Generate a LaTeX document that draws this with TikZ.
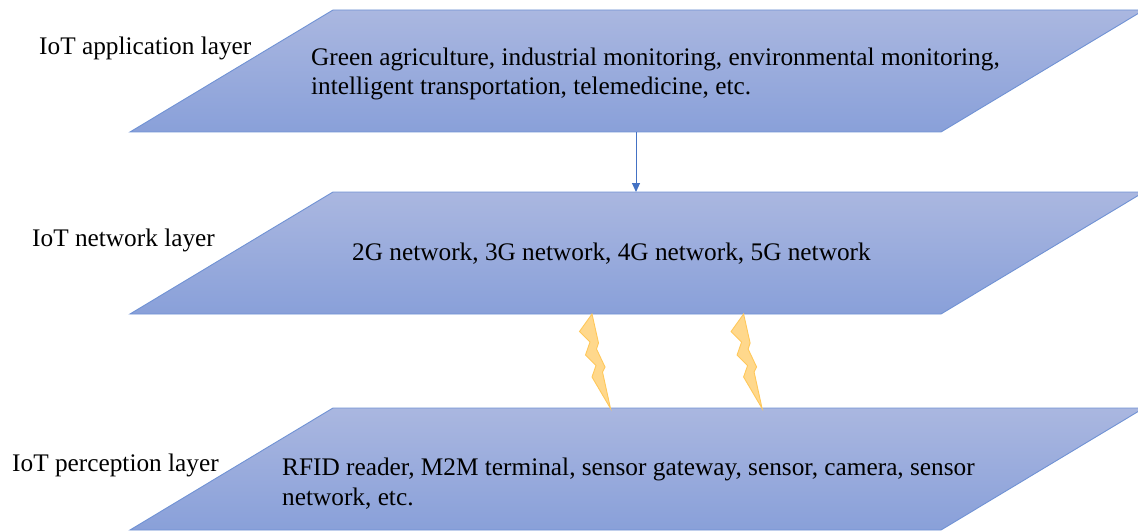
\documentclass[tikz,border=0pt]{standalone}
\usepackage{fontspec}
\setmainfont{Liberation Serif}
\usetikzlibrary{arrows.meta}
\definecolor{laytop}{RGB}{170,183,224}
\definecolor{laybot}{RGB}{137,160,217}
\definecolor{layedge}{RGB}{112,146,212}
\definecolor{arrowblue}{RGB}{68,114,196}
\definecolor{boltfill}{RGB}{255,216,140}
\definecolor{boltedge}{RGB}{255,200,90}
\tikzset{
  layer/.style={top color=laytop, bottom color=laybot, draw=layedge, line width=0.9pt},
  lbl/.style={anchor=base west, inner sep=0pt, font=\fontsize{25.3}{29.5}\selectfont},
  txt/.style={anchor=base west, inner sep=0pt, align=left, font=\fontsize{25.3}{29.5}\selectfont},
  bolt/.style={fill=boltfill, draw=boltedge, line width=0.9pt, line join=miter},
  conn/.style={draw=arrowblue, line width=1pt, -{Triangle[width=8pt,length=9pt]}}
}
\begin{document}
\begin{tikzpicture}[x=1pt,y=-1pt]
\useasboundingbox (0,0) rectangle (1138,532);
\clip (0,0) rectangle (1138,532);
% layers
\path[layer] (130,132) -- (333,10) -- (1144,10) -- (941,132) -- cycle;
\path[layer] (130,314) -- (333,192) -- (1144,192) -- (941,314) -- cycle;
\path[layer] (130,530) -- (333,408) -- (1144,408) -- (941,530) -- cycle;
\coordinate (appbot) at (636,132);
\coordinate (nettop) at (636,192);
% labels
\node[lbl] (lapp) at (39,55) {IoT application layer};
\node[lbl] (lnet) at (32,246) {IoT network layer};
\node[lbl] (lper) at (12,471) {IoT perception layer};
% contents (base anchor = last line)
\node[txt] (tapp) at (311,95) {Green agriculture, industrial monitoring, environmental monitoring,\\intelligent transportation, telemedicine, etc.};
\node[txt] (tnet) at (352,260) {2G network, 3G network, 4G network, 5G network};
\node[txt] (tper) at (282,505) {RFID reader, M2M terminal, sensor gateway, sensor, camera, sensor\\network, etc.};
% arrow
\draw[conn] (appbot) -- (nettop);
% bolts
\foreach \dx in {0,151.6}{
\path[bolt] ([xshift=\dx]592,314) -- ([xshift=\dx]579.5,331.5) -- ([xshift=\dx]590,342) -- ([xshift=\dx]585.5,355) -- ([xshift=\dx]596,365.5) -- ([xshift=\dx]592,377) -- ([xshift=\dx]610.5,408.5) -- ([xshift=\dx]602.5,372) -- ([xshift=\dx]605,367) -- ([xshift=\dx]596.5,349) -- ([xshift=\dx]598.5,343) -- cycle;
}
\end{tikzpicture}
\end{document}
